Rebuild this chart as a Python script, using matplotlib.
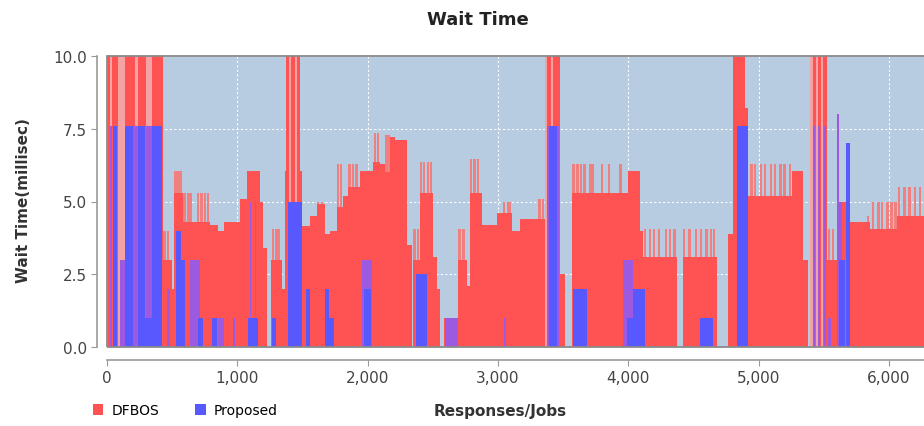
import matplotlib
matplotlib.use("Agg")
import matplotlib.pyplot as plt
from matplotlib.patches import Rectangle
from matplotlib.ticker import FuncFormatter

# DFBOS wait time: (start, end, value)
dfbos_start = [0, 430, 500, 515, 580, 790, 850, 900, 1020, 1075, 1175, 1200,
               1262, 1345, 1366, 1374, 1481, 1500, 1560, 1612, 1673, 1712, 1765,
               1811, 1850, 1942, 2042, 2095, 2134, 2172, 2210, 2302, 2349, 2402,
               2500, 2530, 2586, 2694, 2760, 2786, 2878, 2993, 3108, 3170, 3308,
               3362, 3477, 3569, 3999, 4091, 4114, 4421, 4766, 4805, 4900, 4920,
               5257, 5342, 5396, 5526, 5603, 5680, 5856, 6063]
dfbos_end = [430, 500, 515, 580, 790, 850, 900, 1020, 1075, 1175, 1200, 1228,
             1345, 1366, 1374, 1481, 1500, 1560, 1612, 1673, 1712, 1765, 1811,
             1850, 1942, 2042, 2095, 2134, 2172, 2210, 2302, 2341, 2402, 2500,
             2530, 2556, 2694, 2760, 2786, 2878, 2993, 3108, 3170, 3308, 3362,
             3477, 3515, 3999, 4091, 4114, 4375, 4682, 4805, 4900, 4920, 5257,
             5342, 5380, 5526, 5603, 5680, 5856, 6063, 6270]
dfbos_val = [10.0, 3.0, 2.0, 5.3, 4.3, 4.2, 4.0, 4.3, 5.1, 6.05, 5.0, 3.4,
             3.0, 2.0, 6.05, 10.0, 6.05, 4.15, 4.5, 4.9, 3.9, 4.0, 4.8,
             5.2, 5.5, 6.05, 6.35, 6.3, 6.0, 7.2, 7.1, 3.5, 3.0, 5.3,
             3.1, 2.0, 1.0, 3.0, 2.1, 5.3, 4.2, 4.6, 4.0, 4.4, 4.4,
             10.0, 2.5, 5.3, 6.05, 4.0, 3.1, 3.1, 3.9, 10.0, 8.2, 5.2,
             6.05, 3.0, 10.0, 3.0, 5.0, 4.3, 4.05, 4.5]

# single DFBOS peaks poking above the runs
peak_x = [440, 470, 525, 545, 565, 595, 625, 645, 700, 725, 750, 775,
          1275, 1300, 1320, 1620, 1650, 1775, 1795, 1860, 1890, 1915,
          2055, 2080, 2140, 2160, 2360, 2385, 2410, 2435, 2465, 2485,
          2705, 2735, 2795, 2820, 2845, 3045, 3075, 3095, 3320, 3345,
          3580, 3610, 3640, 3665, 3710, 3730, 3800, 3855, 3940,
          4130, 4165, 4200, 4235, 4290, 4320, 4355,
          4430, 4470, 4520, 4560, 4600, 4635, 4660,
          4945, 4975, 5020, 5050, 5095, 5125, 5170, 5200, 5240,
          5540, 5570, 5840, 5880, 5920, 5950, 5990, 6020, 6050,
          6080, 6120, 6160, 6200, 6240]
peak_val = [4.0, 4.0, 6.05, 6.05, 6.05, 5.3, 5.3, 5.3, 5.3, 5.3, 5.3, 5.3,
            4.05, 4.05, 4.05, 5.0, 5.0, 6.3, 6.3, 6.3, 6.3, 6.3,
            7.35, 7.35, 7.3, 7.3, 4.05, 4.05, 6.35, 6.35, 6.35, 6.35,
            4.05, 4.05, 6.45, 6.45, 6.45, 5.0, 5.0, 5.0, 5.1, 5.1,
            6.3, 6.3, 6.3, 6.3, 6.3, 6.3, 6.3, 6.3, 6.3,
            4.05, 4.05, 4.05, 4.05, 4.05, 4.05, 4.05,
            4.05, 4.05, 4.05, 4.05, 4.05, 4.05, 4.05,
            6.3, 6.3, 6.3, 6.3, 6.3, 6.3, 6.3, 6.3, 6.3,
            4.05, 4.05, 4.5, 5.0, 5.0, 5.0, 5.0, 5.0, 5.0,
            5.5, 5.5, 5.5, 5.5, 5.5]

# pale streaks inside the 10.0 columns
pale_start = [0, 23, 85, 215, 300, 1395, 1440, 3362, 3410, 5396, 5440, 5480]
pale_end = [8, 38, 138, 238, 345, 1412, 1460, 3378, 3420, 5415, 5455, 5495]

# Proposed wait time, solid runs
prop_start = [46, 138, 238, 345, 292, 530, 570, 700, 806, 1082, 1266, 1389,
              1530, 1673, 1700, 1970, 2372, 3395, 3577, 3990, 4037, 4551,
              4835, 5615, 5672]
prop_end = [77, 200, 292, 425, 345, 570, 600, 735, 844, 1159, 1300, 1497,
            1560, 1700, 1740, 2025, 2456, 3455, 3684, 4037, 4129, 4651,
            4920, 5665, 5703]
prop_val = [7.6, 7.6, 7.6, 7.6, 1.0, 4.0, 3.0, 1.0, 1.0, 1.0, 1.0, 5.0,
            2.0, 2.0, 1.0, 2.0, 2.5, 7.6, 2.0, 1.0, 2.0, 1.0,
            7.6, 3.0, 7.0]

# Proposed runs where it blends with DFBOS (purple in the picture)
mix_start = [23, 100, 200, 300, 460, 640, 852, 967, 1095, 1135, 1957, 2594,
             3045, 3375, 3960, 5420, 5460, 5500, 5530, 5600, 5615]
mix_end = [38, 138, 238, 345, 480, 714, 900, 980, 1105, 1145, 2034, 2694,
           3060, 3470, 4037, 5435, 5475, 5515, 5560, 5615, 5640]
mix_val = [7.6, 3.0, 7.6, 7.6, 2.0, 3.0, 1.0, 1.0, 5.0, 5.0, 3.0, 1.0,
           1.0, 7.6, 3.0, 7.6, 7.6, 7.6, 1.0, 8.0, 5.0]

x_ticks = [0, 1000, 2000, 3000, 4000, 5000, 6000]
y_ticks = [0.0, 2.5, 5.0, 7.5, 10.0]

RED = '#ff5252'
BLUE = '#5858ff'

fig = plt.figure(figsize=(9.24, 4.27), dpi=100)
ax = fig.add_axes([107/924, 1 - 348/427, (924 - 107)/924, (348 - 57)/427])
ax.set_facecolor('#b7cbe1')

def widths(s, e):
    return [b - a for a, b in zip(s, e)]

ax.bar(peak_x, peak_val, width=18, align='center', color='#f08080', lw=0, zorder=1)
red = ax.bar(dfbos_start, dfbos_val, width=widths(dfbos_start, dfbos_end),
             align='edge', color=RED, lw=0, zorder=2, label='DFBOS')
ax.bar(pale_start, [10.0] * len(pale_start), width=widths(pale_start, pale_end),
       align='edge', color='#f3a3a3', lw=0, zorder=3)
ax.bar(mix_start, mix_val, width=widths(mix_start, mix_end),
       align='edge', color='#9c5ae0', lw=0, zorder=4)
blue = ax.bar(prop_start, prop_val, width=widths(prop_start, prop_end),
              align='edge', color=BLUE, lw=0, zorder=5, label='Proposed')

ax.set_xlim(0, 6270)
ax.set_ylim(0, 10)
ax.set_xticks(x_ticks)
ax.set_yticks(y_ticks)
ax.xaxis.set_major_formatter(FuncFormatter(lambda v, p: f'{int(v):,}'))
ax.yaxis.set_major_formatter(FuncFormatter(lambda v, p: f'{v:.1f}'))
ax.set_axisbelow(True)
ax.grid(True, color='white', linestyle=(0, (2, 2)), lw=0.8)

for s in ['top', 'right']:
    ax.spines[s].set_visible(False)
ax.spines['left'].set_position(('outward', 7))
ax.spines['bottom'].set_position(('outward', 9))
for s in ['left', 'bottom']:
    ax.spines[s].set_color('#999999')
    ax.spines[s].set_linewidth(1.2)
ax.tick_params(colors='#999999', labelcolor='#444444', labelsize=11, length=4)
ax.add_patch(Rectangle((0, 0), 1.2, 1, transform=ax.transAxes, fill=False,
                       edgecolor='#8a8a8a', lw=1.3, clip_on=False, zorder=10))

fig.text(0.517, 0.952, 'Wait Time', ha='center', va='center',
         fontsize=13, fontweight='bold', color='#222222')
fig.text(24/924, 0.53, 'Wait Time(millisec)', rotation=90, ha='center',
         va='center', fontsize=11, fontweight='bold', color='#333333')
fig.text(0.541, 0.037, 'Responses/Jobs', ha='center', va='center',
         fontsize=11, fontweight='bold', color='#333333')
fig.legend(handles=[red, blue], loc='center left', bbox_to_anchor=(80/924, 0.037),
           ncol=2, frameon=False, fontsize=10, handlelength=0.75, handleheight=0.85,
           handletextpad=0.6, columnspacing=2.6)

fig.savefig('out.png', dpi=100)
